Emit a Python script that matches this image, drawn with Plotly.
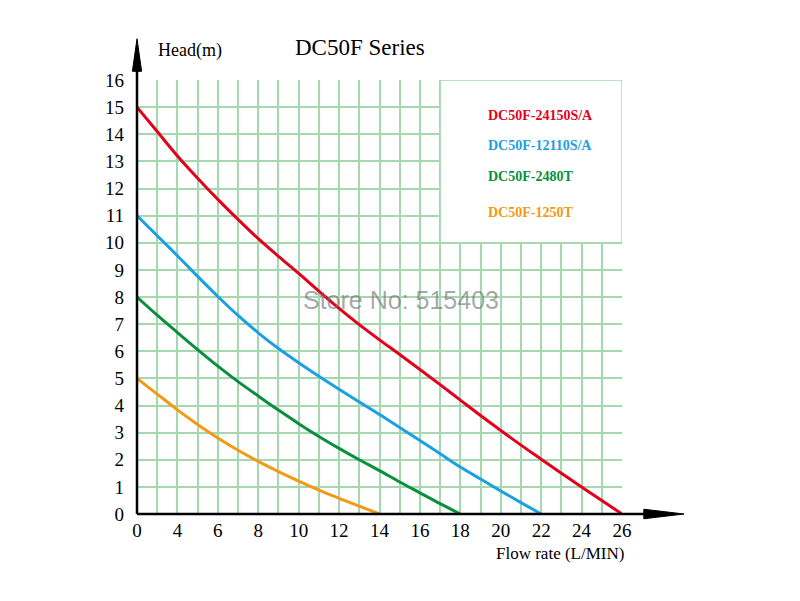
import plotly.graph_objects as go

# grid positions along the flow axis (one grid cell per unit) and their printed labels
flow_tick_pos = [0, 2, 4, 6, 8, 10, 12, 14, 16, 18, 20, 22, 24]
flow_tick_text = ["0", "4", "6", "8", "10", "12", "14", "16", "18", "20", "22", "24", "26"]
head_ticks = [0, 1, 2, 3, 4, 5, 6, 7, 8, 9, 10, 11, 12, 13, 14, 15, 16]

models = ["DC50F-24150S/A", "DC50F-12110S/A", "DC50F-2480T", "DC50F-1250T"]
colors = ["#e3001b", "#1ba0e2", "#0a8f3c", "#f29a12"]

# head (m) read at each grid position
red_x = [0, 1, 2, 3, 4, 5, 6, 7, 8, 9, 10, 11, 12, 13, 14, 15, 16, 17, 18, 19, 20, 21, 22, 23, 24]
red_y = [15, 14.1, 13.2, 12.38, 11.6, 10.86, 10.15, 9.5, 8.87, 8.22, 7.58, 6.98, 6.42, 5.88,
         5.33, 4.77, 4.2, 3.63, 3.08, 2.54, 2.02, 1.5, 1.0, 0.5, 0]

blue_x = [0, 1, 2, 3, 4, 5, 6, 7, 8, 9, 10, 11, 12, 13, 14, 15, 16, 17, 18, 19, 20]
blue_y = [11, 10.26, 9.52, 8.76, 8.02, 7.32, 6.68, 6.1, 5.58, 5.08, 4.6, 4.13, 3.67, 3.19, 2.71,
          2.22, 1.73, 1.29, 0.85, 0.42, 0]

green_x = [0, 1, 2, 3, 4, 5, 6, 7, 8, 9, 10, 11, 12, 13, 14, 15, 16]
green_y = [8, 7.33, 6.69, 6.06, 5.45, 4.88, 4.35, 3.83, 3.33, 2.86, 2.42, 2.0, 1.6, 1.18, 0.78, 0.38, 0]

orange_x = [0, 1, 2, 3, 4, 5, 6, 7, 8, 9, 10, 11, 12]
orange_y = [5, 4.42, 3.84, 3.3, 2.8, 2.35, 1.94, 1.56, 1.21, 0.88, 0.58, 0.29, 0]

grid_green = "#a4d9b0"

fig = go.Figure()
for xs, ys, name, c in zip([red_x, blue_x, green_x, orange_x],
                           [red_y, blue_y, green_y, orange_y], models, colors):
    fig.add_trace(go.Scatter(x=xs, y=ys, mode="lines", name=name,
                             line=dict(color=c, width=3, shape="spline", smoothing=1.0)))

# blank legend box in the top-right corner of the grid
fig.add_shape(type="rect", x0=15, x1=24, y0=10, y1=16, xref="x", yref="y",
              fillcolor="white", line=dict(color=grid_green, width=1.5), layer="between")

# axes with arrows
fig.add_shape(type="line", xref="paper", yref="paper", x0=0, x1=0, y0=0, y1=1.025,
              line=dict(color="black", width=2.5))
fig.add_shape(type="path", xref="paper", yref="paper",
              path="M -0.0095 1.02 L 0.0095 1.02 L 0 1.095 Z",
              fillcolor="black", line=dict(color="black", width=1))
fig.add_shape(type="line", xref="paper", yref="paper", x0=0, x1=1.05, y0=0, y1=0,
              line=dict(color="black", width=2.5))
fig.add_shape(type="path", xref="paper", yref="paper",
              path="M 1.045 -0.011 L 1.045 0.011 L 1.128 0 Z",
              fillcolor="black", line=dict(color="black", width=1))

label_y = [0.919, 0.849, 0.7765, 0.694]
for name, c, yy in zip(models, colors, label_y):
    fig.add_annotation(x=0.7196, y=yy, xref="paper", yref="paper", text="<b>" + name + "</b>",
                       showarrow=False, xanchor="left", yanchor="middle",
                       font=dict(family="Liberation Serif", size=14, color=c))

fig.add_annotation(x=0.46, y=1.074, xref="paper", yref="paper", text="DC50F Series",
                   showarrow=False, xanchor="center", yanchor="middle",
                   font=dict(family="Liberation Serif", size=23, color="black"))
fig.add_annotation(x=0.109, y=1.069, xref="paper", yref="paper", text="Head(m)",
                   showarrow=False, xanchor="center", yanchor="middle",
                   font=dict(family="Liberation Serif", size=18, color="black"))
fig.add_annotation(x=0.872, y=-0.09, xref="paper", yref="paper", text="Flow rate (L/MIN)",
                   showarrow=False, xanchor="center", yanchor="middle",
                   font=dict(family="Liberation Serif", size=17, color="black"))
fig.add_annotation(x=0.544, y=0.493, xref="paper", yref="paper", text="Store No: 515403",
                   showarrow=False, xanchor="center", yanchor="middle",
                   font=dict(family="Liberation Sans", size=25, color="rgba(110,110,110,0.6)"))

# the page body adds an 8 px offset, so margins are shifted to keep the grid in place
fig.update_layout(
    width=800, height=601,
    margin=dict(l=129, r=186, t=72, b=95, autoexpand=False),
    paper_bgcolor="white", plot_bgcolor="white",
    showlegend=False,
    xaxis=dict(range=[0, 24], tickmode="array", tickvals=flow_tick_pos, ticktext=flow_tick_text,
               showgrid=True, gridcolor=grid_green, gridwidth=1.5, zeroline=False,
               showline=False, ticks="", ticklabelstandoff=3,
               tickfont=dict(family="Liberation Serif", size=19, color="black"),
               minor=dict(dtick=1, tick0=0, showgrid=True, gridcolor=grid_green, gridwidth=1.5)),
    yaxis=dict(range=[0, 16], tickmode="array", tickvals=head_ticks,
               showgrid=True, gridcolor=grid_green, gridwidth=1.5, zeroline=False,
               showline=False, ticks="", ticklabelstandoff=12,
               tickfont=dict(family="Liberation Serif", size=19, color="black")),
)

fig.write_html("out.html")
